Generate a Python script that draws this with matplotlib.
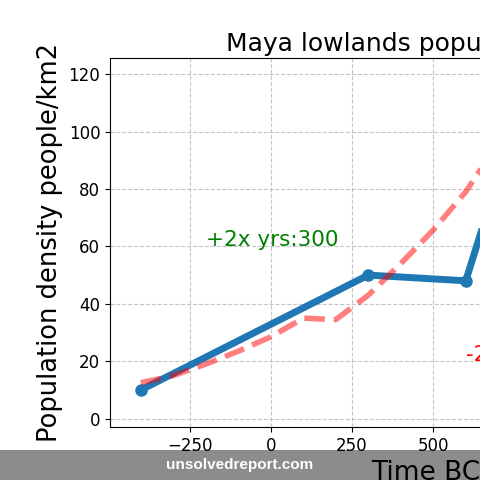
import matplotlib
matplotlib.use("Agg")
import matplotlib.pyplot as plt
from matplotlib.patches import Rectangle

# Data
years_obs = [-400, 300, 600, 800]
density_obs = [10, 50, 48, 120]

years_trend = [-400, -300, -200, -100, 0, 100, 200, 300, 400, 500, 600, 700]
density_trend = [12.5, 15, 19, 23.5, 28.5, 35, 34.5, 43, 54, 65.7, 79, 96]

title = "Maya lowlands population densities"
xlabel = "Time BC/AD"
ylabel = "Population density people/km2"
growth_text = "+2x yrs:300"
decline_text = "-2x yrs:150"
watermark = "unsolvedreport.com"

fig = plt.figure(figsize=(4.8, 4.8), dpi=100)
W = H = 480.0
ax = fig.add_axes([110 / W, 1 - 427 / H, 679 / W, 369 / H])

ax.plot(years_obs, density_obs, color="#1f77b4", lw=5, marker="o", ms=8, zorder=2)
ax.plot(years_trend, density_trend, color="red", alpha=0.5, lw=4, ls="--", zorder=3)

ax.text(-200, 60, growth_text, color="green", fontsize=15.5)
ax.text(600, 20, decline_text, color="red", fontsize=15.5)

ax.set_xlim(-495, 1595)
ax.set_ylim(-2.9, 125.6)
ax.set_xticks([-250, 0, 250, 500, 750, 1000, 1250, 1500])
ax.set_yticks([0, 20, 40, 60, 80, 100, 120])
ax.tick_params(labelsize=12)
ax.grid(True, ls="--", color="#b8b8b8", alpha=0.8)
ax.set_axisbelow(True)

ax.set_title(title, fontsize=18, pad=5)
ax.set_xlabel(xlabel, fontsize=19)
ax.set_ylabel(ylabel, fontsize=18.5, labelpad=4)

fig.patches.append(Rectangle((0, 0), 1, 30 / H, transform=fig.transFigure,
                             facecolor="#8c8c8c", edgecolor="none", zorder=-1))
fig.text(0.5, 15.5 / H, watermark, color="white", fontsize=11, fontweight="bold",
         family="Liberation Sans", ha="center", va="center")

fig.savefig("out.png", dpi=100)
